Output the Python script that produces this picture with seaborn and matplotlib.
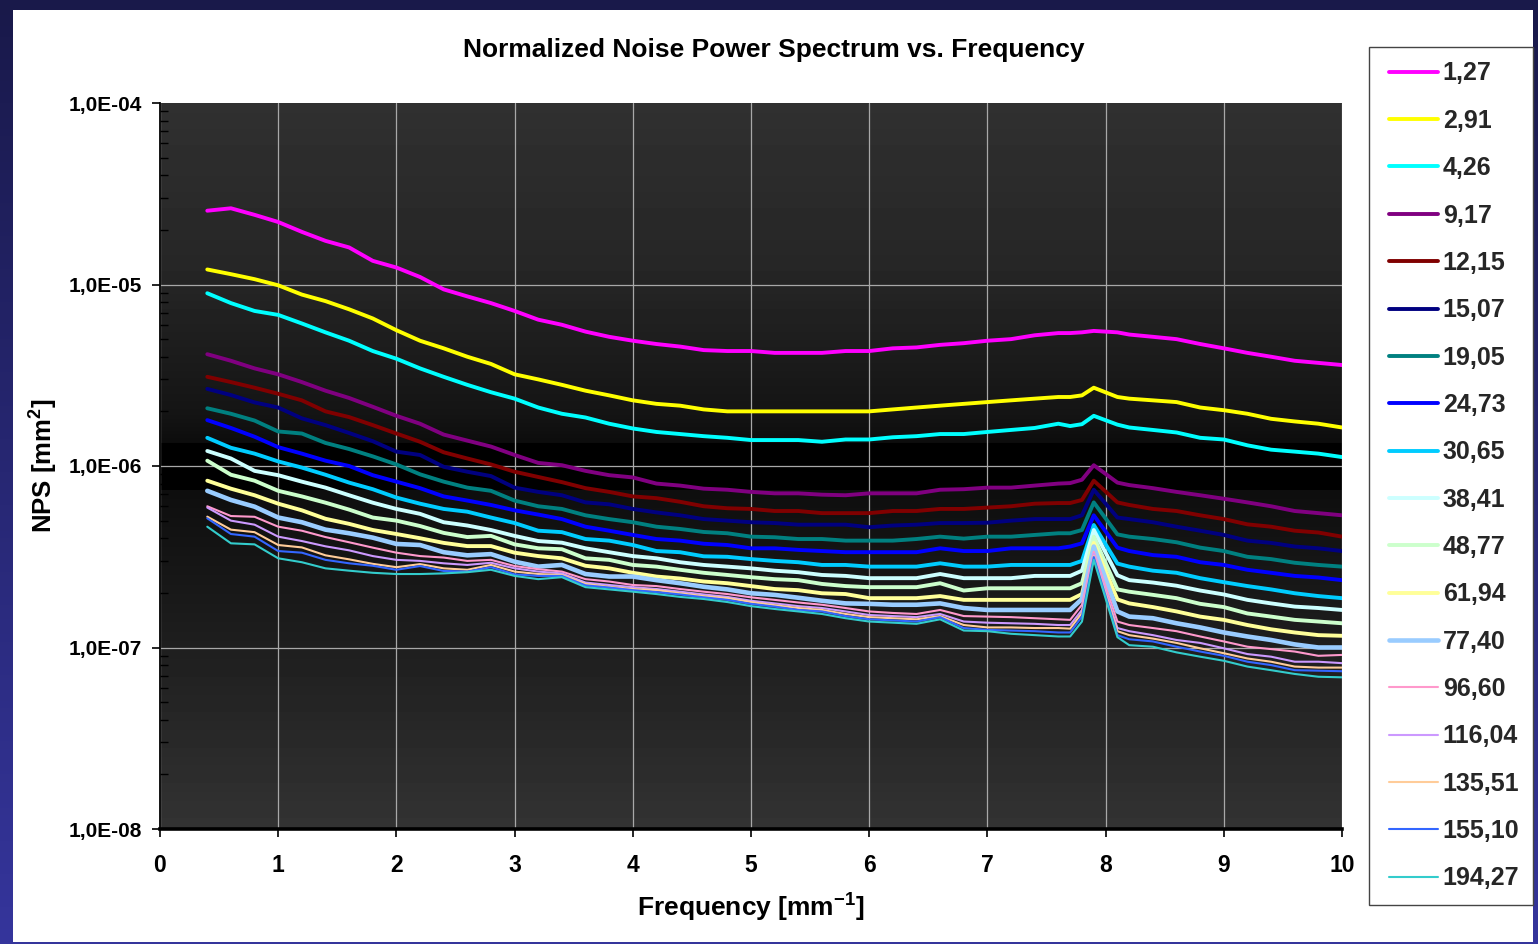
import numpy as np
import pandas as pd
import matplotlib
matplotlib.use("Agg")
import matplotlib.pyplot as plt
import seaborn as sns
from matplotlib.colors import LinearSegmentedColormap
from matplotlib.patches import Rectangle
from matplotlib.ticker import FixedLocator, FuncFormatter, LogLocator, NullFormatter

# Spatial frequency sampling [mm^-1]
freq = [0.4, 0.6, 0.8, 1.0, 1.2, 1.4, 1.6, 1.8, 2.0, 2.2,
        2.4, 2.6, 2.8, 3.0, 3.2, 3.4, 3.6, 3.8, 4.0, 4.2,
        4.4, 4.6, 4.8, 5.0, 5.2, 5.4, 5.6, 5.8, 6.0, 6.2,
        6.4, 6.6, 6.8, 7.0, 7.2, 7.4, 7.6, 7.7,
        7.8, 7.9, 8.1, 8.2, 8.4, 8.6, 8.8, 9.0, 9.2, 9.4,
        9.6, 9.8, 10.0]

# Normalized NPS for each dose level, in units of 1e-7 mm^2
nps_1_27 = [255, 263, 242, 221, 195, 174, 160, 135, 124, 110,
            94, 86, 79, 71.5, 64, 60, 55, 51.5, 49, 47,
            45.5, 43.5, 43, 43, 42, 42, 42, 43, 43, 44.5,
            45, 46.5, 47.5, 49, 50, 52.5, 54, 54,
            54.5, 55.5, 54.5, 53, 51.5, 50, 47, 44.5, 42, 40,
            38, 37, 36]
nps_2_91 = [121, 114, 107, 99, 88, 81, 73, 65, 56, 49,
            44.5, 40, 36.5, 32, 30, 28, 26, 24.5, 23, 22,
            21.5, 20.5, 20, 20, 20, 20, 20, 20, 20, 20.5,
            21, 21.5, 22, 22.5, 23, 23.5, 24, 24,
            24.5, 27, 24, 23.5, 23, 22.5, 21, 20.3, 19.4, 18.2,
            17.6, 17.1, 16.3]
nps_4_26 = [89.5, 79, 71.5, 68, 61, 54.5, 49, 43, 39, 34.5,
            31, 28, 25.5, 23.5, 21, 19.4, 18.5, 17.1, 16.1, 15.4,
            15, 14.6, 14.3, 13.9, 13.9, 13.9, 13.6, 14, 14, 14.4,
            14.6, 15, 15, 15.4, 15.8, 16.2, 17.1, 16.6,
            17, 18.9, 16.9, 16.3, 15.8, 15.3, 14.3, 14, 13, 12.3,
            12, 11.7, 11.2]
nps_9_17 = [41.3, 38, 34.5, 32, 29, 26, 23.7, 21.2, 18.9, 17.1,
            14.9, 13.8, 12.8, 11.5, 10.4, 10.1, 9.4, 8.9, 8.65, 8.0,
            7.8, 7.5, 7.4, 7.2, 7.07, 7.07, 6.95, 6.9, 7.07, 7.07,
            7.07, 7.4, 7.45, 7.6, 7.6, 7.8, 8.0, 8.05,
            8.4, 10.1, 8.1, 7.85, 7.55, 7.2, 6.9, 6.6, 6.3, 6.0,
            5.65, 5.5, 5.35]
nps_12_15 = [31, 29, 27, 25, 23, 20, 18.6, 16.8, 15.1, 13.6,
             11.9, 11.0, 10.2, 9.3, 8.7, 8.15, 7.55, 7.2, 6.8, 6.65,
             6.35, 6.0, 5.85, 5.8, 5.65, 5.65, 5.5, 5.5, 5.5, 5.65,
             5.65, 5.8, 5.8, 5.9, 6.0, 6.2, 6.25, 6.25,
             6.5, 8.3, 6.3, 6.1, 5.8, 5.65, 5.35, 5.1, 4.77, 4.63,
             4.4, 4.3, 4.08]
nps_15_07 = [26.6, 24.6, 22.4, 21, 18.3, 16.8, 15.2, 13.7, 12, 11.5,
             9.9, 9.3, 8.8, 7.6, 7.2, 6.9, 6.3, 6.15, 5.8, 5.55,
             5.35, 5.1, 5.0, 4.9, 4.85, 4.75, 4.75, 4.75, 4.6, 4.7,
             4.75, 4.85, 4.85, 4.87, 5.0, 5.1, 5.1, 5.1,
             5.35, 7.4, 5.2, 5.1, 4.9, 4.63, 4.4, 4.17, 3.88, 3.77,
             3.6, 3.52, 3.4]
nps_19_05 = [20.8, 19.4, 17.8, 15.5, 15.1, 13.4, 12.4, 11.3, 10.2, 9.0,
             8.2, 7.6, 7.3, 6.45, 6.0, 5.8, 5.35, 5.1, 4.9, 4.63,
             4.5, 4.33, 4.26, 4.08, 4.05, 3.96, 3.96, 3.88, 3.88, 3.88,
             3.96, 4.08, 3.98, 4.08, 4.08, 4.17, 4.26, 4.26,
             4.44, 6.3, 4.2, 4.08, 3.96, 3.8, 3.55, 3.4, 3.16, 3.07,
             2.93, 2.85, 2.79]
nps_24_73 = [17.9, 16.2, 14.5, 12.7, 11.7, 10.7, 10.0, 8.9, 8.2, 7.55,
             6.8, 6.45, 6.1, 5.7, 5.4, 5.1, 4.63, 4.4, 4.17, 3.96,
             3.88, 3.73, 3.67, 3.52, 3.52, 3.45, 3.4, 3.35, 3.35, 3.35,
             3.35, 3.52, 3.4, 3.4, 3.52, 3.52, 3.52, 3.6,
             3.75, 5.35, 3.55, 3.4, 3.23, 3.16, 2.95, 2.85, 2.68, 2.58,
             2.48, 2.43, 2.35]
nps_30_65 = [14.3, 12.6, 11.7, 10.6, 9.8, 8.95, 8.1, 7.45, 6.7, 6.2,
             5.8, 5.6, 5.2, 4.85, 4.4, 4.32, 3.96, 3.88, 3.67, 3.4,
             3.35, 3.18, 3.16, 3.07, 3.0, 2.95, 2.85, 2.85, 2.79, 2.79,
             2.79, 2.91, 2.79, 2.79, 2.85, 2.85, 2.85, 2.85,
             3.0, 4.73, 2.9, 2.79, 2.65, 2.58, 2.41, 2.29, 2.18, 2.09,
             1.99, 1.92, 1.87]
nps_38_41 = [12.1, 11.0, 9.4, 8.9, 8.2, 7.6, 6.9, 6.28, 5.8, 5.45,
             4.9, 4.7, 4.44, 4.12, 3.86, 3.78, 3.52, 3.35, 3.19, 3.1,
             2.95, 2.85, 2.79, 2.73, 2.65, 2.6, 2.51, 2.48, 2.41, 2.41,
             2.41, 2.54, 2.41, 2.41, 2.41, 2.48, 2.48, 2.48,
             2.65, 4.44, 2.5, 2.35, 2.28, 2.19, 2.06, 1.96, 1.83, 1.75,
             1.68, 1.65, 1.61]
nps_48_77 = [10.7, 8.95, 8.3, 7.3, 6.8, 6.28, 5.75, 5.2, 5.0, 4.67,
             4.28, 4.06, 4.12, 3.7, 3.52, 3.48, 3.1, 3.04, 2.85, 2.79,
             2.68, 2.58, 2.51, 2.44, 2.38, 2.35, 2.24, 2.18, 2.15, 2.15,
             2.15, 2.26, 2.06, 2.12, 2.12, 2.12, 2.12, 2.12,
             2.26, 4.08, 2.09, 2.03, 1.95, 1.87, 1.74, 1.67, 1.54, 1.48,
             1.42, 1.39, 1.36]
nps_61_94 = [8.3, 7.5, 6.9, 6.2, 5.7, 5.12, 4.8, 4.44, 4.22, 4.0,
             3.77, 3.62, 3.62, 3.33, 3.19, 3.1, 2.82, 2.73, 2.58, 2.46,
             2.4, 2.31, 2.26, 2.18, 2.1, 2.07, 1.99, 1.97, 1.87, 1.87,
             1.87, 1.92, 1.83, 1.83, 1.83, 1.83, 1.83, 1.83,
             1.97, 3.77, 1.84, 1.75, 1.67, 1.58, 1.48, 1.42, 1.33, 1.26,
             1.21, 1.17, 1.16]
nps_77_40 = [7.3, 6.5, 5.97, 5.2, 4.9, 4.46, 4.26, 4.03, 3.72, 3.67,
             3.35, 3.22, 3.27, 2.97, 2.79, 2.85, 2.54, 2.46, 2.46, 2.35,
             2.26, 2.16, 2.09, 1.99, 1.95, 1.88, 1.81, 1.75, 1.74, 1.72,
             1.72, 1.75, 1.65, 1.61, 1.61, 1.61, 1.61, 1.61,
             1.85, 3.6, 1.58, 1.48, 1.45, 1.36, 1.29, 1.21, 1.15, 1.1,
             1.04, 1.0, 1.0]
nps_96_60 = [6.0, 5.3, 5.25, 4.63, 4.4, 4.06, 3.8, 3.55, 3.33, 3.19,
             3.13, 3.0, 3.04, 2.81, 2.7, 2.62, 2.38, 2.31, 2.21, 2.18,
             2.1, 2.03, 1.97, 1.89, 1.83, 1.77, 1.72, 1.65, 1.58, 1.55,
             1.53, 1.61, 1.49, 1.48, 1.47, 1.45, 1.43, 1.42,
             1.72, 3.37, 1.39, 1.33, 1.28, 1.23, 1.15, 1.08, 1.01, 0.98,
             0.95, 0.9, 0.91]
nps_116_04 = [5.9, 5.0, 4.75, 4.08, 3.86, 3.61, 3.43, 3.19, 3.04, 3.0,
              2.91, 2.85, 2.93, 2.73, 2.62, 2.56, 2.28, 2.21, 2.15, 2.1,
              2.03, 1.96, 1.9, 1.81, 1.75, 1.69, 1.65, 1.58, 1.51, 1.49,
              1.47, 1.53, 1.39, 1.37, 1.36, 1.35, 1.33, 1.33,
              1.61, 3.27, 1.28, 1.23, 1.17, 1.1, 1.06, 0.99, 0.92, 0.89,
              0.835, 0.835, 0.82]
nps_135_51 = [5.26, 4.46, 4.32, 3.67, 3.56, 3.22, 3.06, 2.89, 2.77, 2.88,
              2.73, 2.68, 2.85, 2.62, 2.54, 2.51, 2.24, 2.16, 2.1, 2.07,
              1.99, 1.92, 1.87, 1.78, 1.71, 1.65, 1.61, 1.53, 1.47, 1.45,
              1.43, 1.49, 1.33, 1.29, 1.29, 1.28, 1.28, 1.27,
              1.55, 3.19, 1.23, 1.17, 1.12, 1.06, 0.99, 0.93, 0.87, 0.835,
              0.785, 0.775, 0.775]
nps_155_10 = [5.15, 4.22, 4.08, 3.4, 3.33, 3.04, 2.91, 2.82, 2.68, 2.81,
              2.64, 2.62, 2.77, 2.53, 2.48, 2.48, 2.2, 2.14, 2.07, 2.02,
              1.96, 1.89, 1.83, 1.74, 1.68, 1.61, 1.58, 1.49, 1.43, 1.41,
              1.39, 1.47, 1.28, 1.25, 1.24, 1.23, 1.21, 1.21,
              1.48, 3.15, 1.17, 1.11, 1.08, 1.01, 0.95, 0.9, 0.835, 0.8,
              0.75, 0.745, 0.74]
nps_194_27 = [4.63, 3.75, 3.7, 3.1, 2.95, 2.73, 2.65, 2.58, 2.54, 2.54,
              2.56, 2.6, 2.68, 2.48, 2.38, 2.44, 2.15, 2.09, 2.03, 1.97,
              1.9, 1.85, 1.78, 1.69, 1.63, 1.58, 1.53, 1.45, 1.39, 1.37,
              1.35, 1.43, 1.24, 1.23, 1.19, 1.17, 1.15, 1.15,
              1.39, 3.04, 1.14, 1.03, 1.01, 0.94, 0.89, 0.845, 0.785, 0.75,
              0.715, 0.69, 0.685]

dose_labels = ["1,27", "2,91", "4,26", "9,17", "12,15", "15,07", "19,05",
               "24,73", "30,65", "38,41", "48,77", "61,94", "77,40",
               "96,60", "116,04", "135,51", "155,10", "194,27"]
series_values = [nps_1_27, nps_2_91, nps_4_26, nps_9_17, nps_12_15,
                 nps_15_07, nps_19_05, nps_24_73, nps_30_65, nps_38_41,
                 nps_48_77, nps_61_94, nps_77_40, nps_96_60, nps_116_04,
                 nps_135_51, nps_155_10, nps_194_27]
UNIT = 1e-7

line_colors = ["#FF00FF", "#FFFF00", "#00FFFF", "#800080", "#800000",
               "#000080", "#008080", "#0000FF", "#00CCFF", "#CCFFFF",
               "#CCFFCC", "#FFFF99", "#99CCFF", "#FF99CC", "#CC99FF",
               "#FFCC99", "#3366FF", "#33CCCC"]
line_widths = [2.8] * 12 + [3.3] + [1.5] * 5

df = pd.concat(
    [pd.DataFrame({"freq": freq, "nps": np.asarray(v, dtype=float) * UNIT, "dose": lab})
     for lab, v in zip(dose_labels, series_values)],
    ignore_index=True,
)

# ---------------------------------------------------------------- styling
sns.set_theme(style="white")
plt.rcParams["font.family"] = ["Liberation Sans", "DejaVu Sans"]
plt.rcParams["font.weight"] = "bold"
plt.rcParams["axes.labelweight"] = "bold"
plt.rcParams["mathtext.fontset"] = "custom"
plt.rcParams["mathtext.rm"] = "Liberation Sans:bold"
plt.rcParams["mathtext.bf"] = "Liberation Sans:bold"
plt.rcParams["mathtext.default"] = "bf"

W, H = 1538, 944
fig = plt.figure(figsize=(W / 100, H / 100), dpi=100)

# Navy frame with a white chart panel
frame = fig.add_axes([0, 0, 1, 1], zorder=-10)
frame_cmap = LinearSegmentedColormap.from_list("frame", ["#19194a", "#35359c"])
frame.imshow(np.linspace(0, 1, 256).reshape(-1, 1), cmap=frame_cmap, aspect="auto",
             extent=[0, 1, 0, 1], origin="upper")
frame.add_patch(Rectangle((13 / W, 1 - 942 / H), (1533 - 13) / W, (942 - 10) / H,
                          transform=frame.transAxes, facecolor="white", edgecolor="none"))
frame.set_xlim(0, 1)
frame.set_ylim(0, 1)
frame.axis("off")

# Plot area: dark vertical gradient with a black band around 1e-6
px_left, px_right, px_top, px_bottom = 160, 1342, 103, 829
pos = [px_left / W, 1 - px_bottom / H, (px_right - px_left) / W, (px_bottom - px_top) / H]
shade = fig.add_axes(pos, zorder=0)
rows = np.arange(px_top, px_bottom) + 0.5
upper = np.interp(rows, [103, 285, 413, 443], [0.19, 0.145, 0.08, 0.05])
lower = np.interp(rows, [490, 600, 648, 829], [0.055, 0.10, 0.12, 0.20])
level = np.where(rows < 443, upper, np.where(rows < 490, 0.0, lower))
shade.imshow(level.reshape(-1, 1), cmap="gray", vmin=0, vmax=1, aspect="auto",
             extent=[0, 1, 0, 1], origin="upper")
shade.axis("off")

ax = fig.add_axes(pos, zorder=1)
ax.patch.set_alpha(0)
ax.set_yscale("log")

for lab, col, lw in zip(dose_labels, line_colors, line_widths):
    sns.lineplot(data=df[df["dose"] == lab], x="freq", y="nps", color=col,
                 linewidth=lw, estimator=None, sort=False, legend=False,
                 label=lab, ax=ax)

ax.set_xlim(0, 10)
ax.set_ylim(1e-8, 1e-4)
ax.xaxis.set_major_locator(FixedLocator(range(11)))
ax.yaxis.set_major_locator(FixedLocator([1e-8, 1e-7, 1e-6, 1e-5, 1e-4]))
ax.yaxis.set_major_formatter(
    FuncFormatter(lambda v, p: f"1,0E-{int(round(-np.log10(v))):02d}"))
ax.yaxis.set_minor_locator(LogLocator(base=10, subs=np.arange(2, 10)))
ax.yaxis.set_minor_formatter(NullFormatter())

ax.tick_params(axis="y", which="major", direction="out", length=6, width=1.2,
               color="black", pad=7, labelsize=15, labelcolor="black", left=True)
ax.tick_params(axis="y", which="minor", direction="in", length=6, width=1.0,
               color="black", left=True)
ax.tick_params(axis="x", which="major", direction="out", length=6, width=1.2,
               color="black", pad=12, labelsize=16.5, labelcolor="black", bottom=True)

ax.grid(True, which="major", axis="both", color="#a8a8a8", linewidth=0.9)
ax.yaxis.get_major_ticks()[-1].gridline.set_visible(False)
for side in ("top", "right"):
    ax.spines[side].set_visible(False)
ax.spines["left"].set_color("black")
ax.spines["left"].set_linewidth(1.3)
ax.spines["bottom"].set_color("black")
ax.spines["bottom"].set_linewidth(2.6)

ax.set_xlabel("Frequency [mm$^{-1}$]", fontsize=19, fontweight="bold", color="black")
ax.xaxis.set_label_coords(0.5, (px_bottom - 917) / (px_bottom - px_top))
ax.xaxis.label.set_va("baseline")
ax.set_ylabel("NPS [mm$^{2}$]", fontsize=18.5, fontweight="bold", color="black")
ax.yaxis.set_label_coords((44 - px_left) / (px_right - px_left), 0.5)
ax.yaxis.label.set_va("center")
ax.yaxis.label.set_ha("center")

fig.text(774 / W, 1 - 57.5 / H, "Normalized Noise Power Spectrum vs. Frequency",
         ha="center", va="baseline", fontsize=19, fontweight="bold", color="black")

# Legend: fixed white box with the entries placed inside it
fig.add_artist(Rectangle((1369 / W, 1 - 905 / H), (1533 - 1369) / W, (905 - 47) / H,
                         transform=fig.transFigure, facecolor="white",
                         edgecolor="#444444", linewidth=1.0, zorder=4))
if ax.get_legend() is not None:
    ax.get_legend().remove()
handles = ax.get_lines()
fig.legend(handles, dose_labels, loc="upper left",
           bbox_to_anchor=(1389 / W, 1 - 61.5 / H), bbox_transform=fig.transFigure,
           frameon=False, borderaxespad=0, borderpad=0,
           prop={"size": 18, "weight": "bold"}, handlelength=1.95,
           handletextpad=0.2, labelspacing=0.934)

fig.savefig("out.png", dpi=100)
